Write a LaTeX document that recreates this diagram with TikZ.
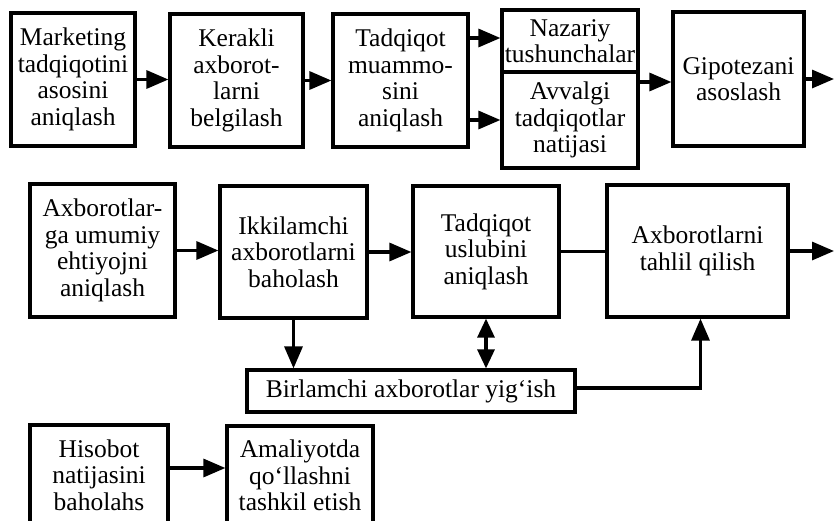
\documentclass[tikz,border=0pt]{standalone}
\usepackage{fontspec}
\setmainfont{Liberation Serif}
\usetikzlibrary{arrows.meta,calc}
\begin{document}
\begin{tikzpicture}[x=1pt,y=-1pt,
  box/.style={draw, line width=3.2pt, inner sep=0pt, align=center,
    font=\fontsize{25.5}{26.5}\selectfont},
  arr/.style={line width=3.2pt, -{Triangle[length=22pt,width=18pt]}},
  dblarr/.style={line width=3.2pt, {Triangle[length=19pt,width=17pt]}-{Triangle[length=19pt,width=17pt]}},
  plain/.style={line width=3.2pt}]
\useasboundingbox (0,0) rectangle (834,520);
\clip (0,0) rectangle (834,520);
% row 1
\node[box, minimum width=124pt, minimum height=133pt] (A) at (73,79.5) {Marketing\\tadqiqotini\\asosini\\aniqlash};
\node[box, minimum width=133pt, minimum height=133pt] (B) at (236.5,80.5) {Kerakli\\axborot-\\larni\\belgilash};
\node[box, minimum width=135pt, minimum height=133pt] (C) at (400.5,80.5) {Tadqiqot\\muammo-\\sini\\aniqlash};
\node[box, minimum width=136pt, minimum height=62pt] (N) at (570,41) {Nazariy\\tushunchalar};
\node[box, minimum width=136pt, minimum height=96pt] (V) at (570,120) {Avvalgi\\tadqiqotlar\\natijasi};
\node[box, minimum width=131pt, minimum height=134pt] (H) at (738.5,79) {Gipotezani\\asoslash};
\coordinate (out1) at (834,79);
% row 2
\node[box, minimum width=145pt, minimum height=133pt] (D) at (102.5,250.5) {Axborotlar-\\ga umumiy\\ehtiyojni\\aniqlash};
\node[box, minimum width=147pt, minimum height=132pt] (E) at (293.5,252) {Ikkilamchi\\axborotlarni\\baholash};
\node[box, minimum width=146pt, minimum height=131pt] (F) at (486,251.5) {Tadqiqot\\uslubini\\aniqlash};
\node[box, minimum width=181pt, minimum height=132pt] (G) at (697.5,251) {Axborotlarni\\tahlil qilish};
\coordinate (out2) at (834,251);
\node[box, minimum width=328pt, minimum height=42pt] (Bi) at (411,391) {Birlamchi axborotlar yig‘ish};
% row 3
\node[box, minimum width=138pt, minimum height=100pt] (Hi) at (99,475) {Hisobot\\natijasini\\baholahs};
\node[box, minimum width=146pt, minimum height=99pt] (Am) at (300,475.5) {Amaliyotda\\qo‘llashni\\tashkil etish};
% connectors
\draw[arr] (A.east) -- (A.east -| B.west);
\draw[arr] (B.east) -- (B.east -| C.west);
\draw[arr] ([yshift=3pt]C.east |- N.west) -- ([yshift=3pt]N.west);
\draw[arr] (C.east |- V.west) -- (V.west);
\draw[arr] ([yshift=-3pt]H.west -| V.east) -- ([yshift=-3pt]H.west);
\draw[arr] (H.east) -- (out1);
\draw[arr] (D.east) -- (D.east -| E.west);
\draw[arr] (E.east) -- (E.east -| F.west);
\draw[plain] (F.east) -- (F.east -| G.west);
\draw[arr] (G.east) -- (out2);
\draw[arr] (E.south) -- (E.south |- Bi.north);
\draw[dblarr] (F.south) -- (F.south |- Bi.north);
\draw[arr] ([yshift=3pt]Bi.east) -| ([xshift=3pt]G.south);
\draw[arr] ([yshift=7pt]Hi.east) -- ([yshift=7pt]Hi.east -| Am.west);
\end{tikzpicture}
\end{document}
